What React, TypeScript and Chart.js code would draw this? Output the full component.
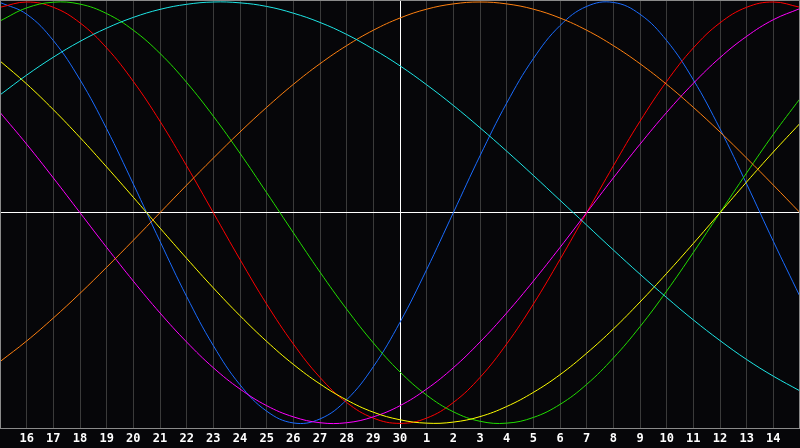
import { useEffect, useRef } from "react";
import { Chart, registerables } from "chart.js";

Chart.register(...registerables);

// day labels, 15th of last month through 15th of this month (today = 30)
const days = [
  "15", "16", "17", "18", "19", "20", "21", "22", "23", "24", "25", "26", "27", "28", "29",
  "30", "1", "2", "3", "4", "5", "6", "7", "8", "9", "10", "11", "12", "13", "14", "15",
];
const todayIndex = 15;

// cycle values, -100..100, one per day
const physical = [
  99.8, 94.2, 81.7, 63.1, 39.8, 13.6, -13.6, -39.8, -63.1, -81.7, -94.2, -99.8, -97.9, -88.8, -73.1,
  -52.0, -27.0, 0, 27.0, 52.0, 73.1, 88.8, 97.9, 99.8, 94.2, 81.7, 63.1, 39.8, 13.6, -13.6, -39.8,
];
const emotional = [
  97.5, 100, 97.5, 90.1, 78.2, 62.3, 43.4, 22.2, 0, -22.2, -43.4, -62.3, -78.2, -90.1, -97.5,
  -100, -97.5, -90.1, -78.2, -62.3, -43.4, -22.2, 0, 22.2, 43.4, 62.3, 78.2, 90.1, 97.5, 100, 97.5,
];
const intellectual = [
  91.0, 97.2, 99.9, 99.0, 94.5, 86.6, 75.6, 61.8, 45.8, 28.2, 9.5, -9.5, -28.2, -45.8, -61.8,
  -75.6, -86.6, -94.5, -99.0, -99.9, -97.2, -91.0, -81.5, -69.0, -54.1, -37.2, -18.9, 0, 18.9, 37.2, 54.1,
];
const intuitive = [
  47.6, 32.5, 16.5, 0, -16.5, -32.5, -47.6, -61.4, -73.6, -83.7, -91.6, -96.9, -99.7, -99.7, -96.9,
  -91.6, -83.7, -73.6, -61.4, -47.6, -32.5, -16.5, 0, 16.5, 32.5, 47.6, 61.4, 73.6, 83.7, 91.6, 96.9,
];
const aesthetic = [
  72.0, 61.1, 48.9, 35.7, 21.7, 7.3, -7.3, -21.7, -35.7, -48.9, -61.1, -72.0, -81.3, -88.9, -94.7,
  -98.3, -99.9, -99.4, -96.8, -92.0, -85.3, -76.9, -66.7, -55.2, -42.4, -28.8, -14.6, 0, 14.6, 28.8, 42.4,
];
const awareness = [
  -70.7, -60.9, -50.0, -38.3, -25.9, -13.1, 0, 13.1, 25.9, 38.3, 50.0, 60.9, 70.7, 79.3, 86.6,
  92.4, 96.6, 99.1, 100, 99.1, 96.6, 92.4, 86.6, 79.3, 70.7, 60.9, 50.0, 38.3, 25.9, 13.1, 0,
];
const spiritual = [
  55.9, 65.3, 73.8, 81.3, 87.6, 92.7, 96.5, 98.9, 100.0, 99.6, 97.9, 94.7, 90.3, 84.6, 77.6,
  69.7, 60.7, 50.9, 40.3, 29.2, 17.7, 5.9, -5.9, -17.7, -29.2, -40.3, -50.9, -60.7, -69.7, -77.6, -84.6,
];

const framePlugin = {
  id: "frame",
  afterDraw(chart: Chart) {
    const { ctx, chartArea } = chart;
    ctx.save();
    ctx.strokeStyle = "#8a8a8a";
    ctx.lineWidth = 1;
    ctx.strokeRect(
      chartArea.left + 0.5,
      chartArea.top + 0.5,
      chartArea.right - chartArea.left - 1,
      chartArea.bottom - chartArea.top
    );
    ctx.restore();
  },
};

const Biorhythm = () => {
  const chartRef = useRef<HTMLCanvasElement>(null);
  const chartInstance = useRef<Chart | null>(null);

  useEffect(() => {
    if (!chartRef.current) return;
    if (chartInstance.current) {
      chartInstance.current.destroy();
    }
    const ctx = chartRef.current.getContext("2d");
    if (!ctx) return;

    const line = (data: number[], color: string) => ({
      data,
      borderColor: color,
      borderWidth: 1,
      pointRadius: 0,
      pointBorderWidth: 0,
      tension: 0.4,
      fill: false,
    });

    chartInstance.current = new Chart(ctx, {
      type: "line",
      data: {
        labels: days,
        datasets: [
          line(spiritual, "#1ee6e6"),
          line(awareness, "#ff8010"),
          line(aesthetic, "#ffff00"),
          line(intuitive, "#ff00ff"),
          line(intellectual, "#22dd00"),
          line(emotional, "#ff0000"),
          line(physical, "#1a6cff"),
        ],
      },
      options: {
        animation: false,
        responsive: true,
        maintainAspectRatio: false,
        layout: { padding: 0, autoPadding: false },
        plugins: {
          legend: { display: false },
          tooltip: { enabled: false },
        },
        scales: {
          x: {
            offset: false,
            grid: {
              drawTicks: false,
              color: (c: any) =>
                c.index === todayIndex ? "#ffffff" : c.index === 0 || c.index === days.length - 1 ? "rgba(0,0,0,0)" : "#3a3a3a",
            },
            border: { color: "#8a8a8a" },
            ticks: {
              autoSkip: false,
              maxRotation: 0,
              padding: 4,
              color: "#ffffff",
              font: { family: "'DejaVu Sans Mono', monospace", size: 12, weight: "bold" },
              callback: (_v: any, i: number) => (i === 0 || i === days.length - 1 ? "" : days[i]),
            },
            afterFit: (scale: any) => {
              scale.height = 20;
              scale.paddingLeft = 0;
              scale.paddingRight = 0;
            },
          },
          y: {
            min: -102.2,
            max: 100.95,
            grid: { drawTicks: false, color: "#ffffff" },
            border: { display: false },
            ticks: { display: false },
            afterBuildTicks: (scale: any) => {
              scale.ticks = [{ value: 0 }];
            },
            afterFit: (scale: any) => {
              scale.width = 0;
              scale.paddingTop = 0;
              scale.paddingBottom = 0;
            },
          },
        },
      },
      plugins: [framePlugin],
    });

    return () => {
      if (chartInstance.current) {
        chartInstance.current.destroy();
      }
    };
  }, []);

  return (
    <div
      style={{
        position: "fixed",
        left: 0,
        top: 0,
        width: 800,
        height: 448,
        background: "#060609",
      }}
    >
      <canvas ref={chartRef} />
    </div>
  );
};

export default function App() {
  return <Biorhythm />;
}
